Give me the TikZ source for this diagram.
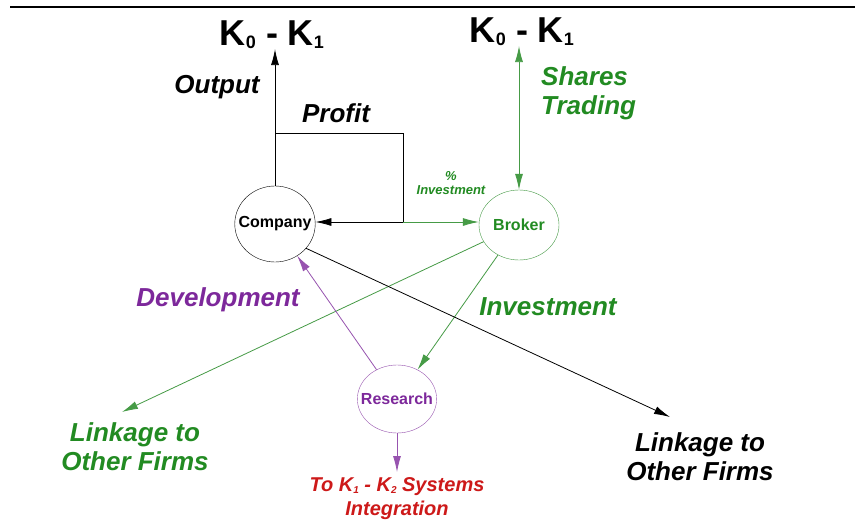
\documentclass[tikz,border=0pt]{standalone}
\usepackage{fontspec}
\setmainfont{Liberation Sans}
\usetikzlibrary{positioning,shapes.geometric,arrows.meta}
\tikzstyle{diagram} = [x = 1pt, y = -1pt]
\definecolor{brokerGreen}{RGB}{34,139,34}
\definecolor{linkGreen}{RGB}{70,155,70}
\definecolor{researchPurple}{RGB}{125,40,155}
\definecolor{systemsRed}{RGB}{205,25,25}
\tikzstyle{agentNode} = [draw, ellipse, minimum width = 79pt, minimum height = 72pt, inner sep = -8pt, font = \fontsize{16}{18}\selectfont\bfseries]
\tikzstyle{flowLabel} = [font = \fontsize{26}{29}\selectfont\bfseries\itshape, align = center, inner sep = 0pt]
\tikzstyle{kLabel} = [font = \fontsize{36}{38}\selectfont\bfseries, inner sep = 0pt]
\tikzstyle{flowArrow} = [-{Latex[length = 16pt, width = 8pt]}, line width = .8pt]
\newcommand{\kIndex}[1]{\raisebox{-.08em}{\scalebox{.5}{#1}}}

\begin{document}
\begin{tikzpicture}[diagram]
        \fill[white] (0,0) rectangle (860,527);
        \useasboundingbox (0,0) rectangle (860,527);
        \draw[line width = 1.2pt] (10,7) -- (855,7);

        % the three agents
        \node[agentNode, minimum height = 76pt] (company) at (275,224) {Company};
        \node[agentNode, minimum width = 80pt, minimum height = 70pt, color = linkGreen, text = brokerGreen] (broker) at (519,225) {Broker};
        \node[agentNode, minimum height = 68pt, color = researchPurple!80, text = researchPurple] (research) at (397,399) {Research};

        % labels
        \node[kLabel] (kLeft) at (272,35) {K\kIndex{0} - K\kIndex{1}};
        \node[kLabel] (kRight) at (522,32) {K\kIndex{0} - K\kIndex{1}};
        \node[flowLabel] (output) at (217,87) {Output};
        \node[flowLabel] (profit) at (336,113) {Profit};
        \node[flowLabel, anchor = west, align = left, text = brokerGreen] (shares) at (541,93) {Shares\\Trading};
        \node[flowLabel, font = \fontsize{13}{14}\selectfont\bfseries\itshape, text = brokerGreen] (percent) at (451,183) {\%\\Investment};
        \node[flowLabel, text = researchPurple] (development) at (218,300) {Development};
        \node[flowLabel, text = brokerGreen] (investment) at (548,307) {Investment};
        \node[flowLabel, text = brokerGreen] (linkLeft) at (135,447) {Linkage to\\Other Firms};
        \node[flowLabel] (linkRight) at (700,457) {Linkage to\\Other Firms};
        \node[flowLabel, font = \fontsize{20}{24}\selectfont\bfseries\itshape, text = systemsRed] (integration) at (397,499) {To K\kIndex{1} - K\kIndex{2} Systems\\Integration};

        \coordinate (profitTurn) at (403,133);
        \coordinate (split) at (403,222);
        \coordinate (linkLeftEnd) at (122,412);
        \coordinate (linkRightEnd) at (670,417);
        \coordinate (integrationEnd) at (397,472);

        % flows
        \draw[flowArrow] (company.north) -- (company.north |- kLeft.south);
        \draw[flowArrow] (company.north |- profitTurn) -- (profitTurn) -- (split) -- (split -| company.east);
        \draw[flowArrow, linkGreen] (split) -- (split -| broker.west);
        \draw[{Latex[length = 16pt, width = 8pt]}-{Latex[length = 16pt, width = 8pt]}, line width = .8pt, linkGreen] (broker.north |- kRight.south) -- (broker.north);
        \draw[flowArrow, linkGreen] (broker) -- (linkLeftEnd);
        \draw[flowArrow, linkGreen] (broker) -- (research);
        \draw[flowArrow] (company.-38) -- (linkRightEnd);
        \draw[flowArrow, researchPurple!80] (research) -- (company);
        \draw[flowArrow, researchPurple!80] (research.south) -- (integrationEnd);
\end{tikzpicture}
\end{document}
